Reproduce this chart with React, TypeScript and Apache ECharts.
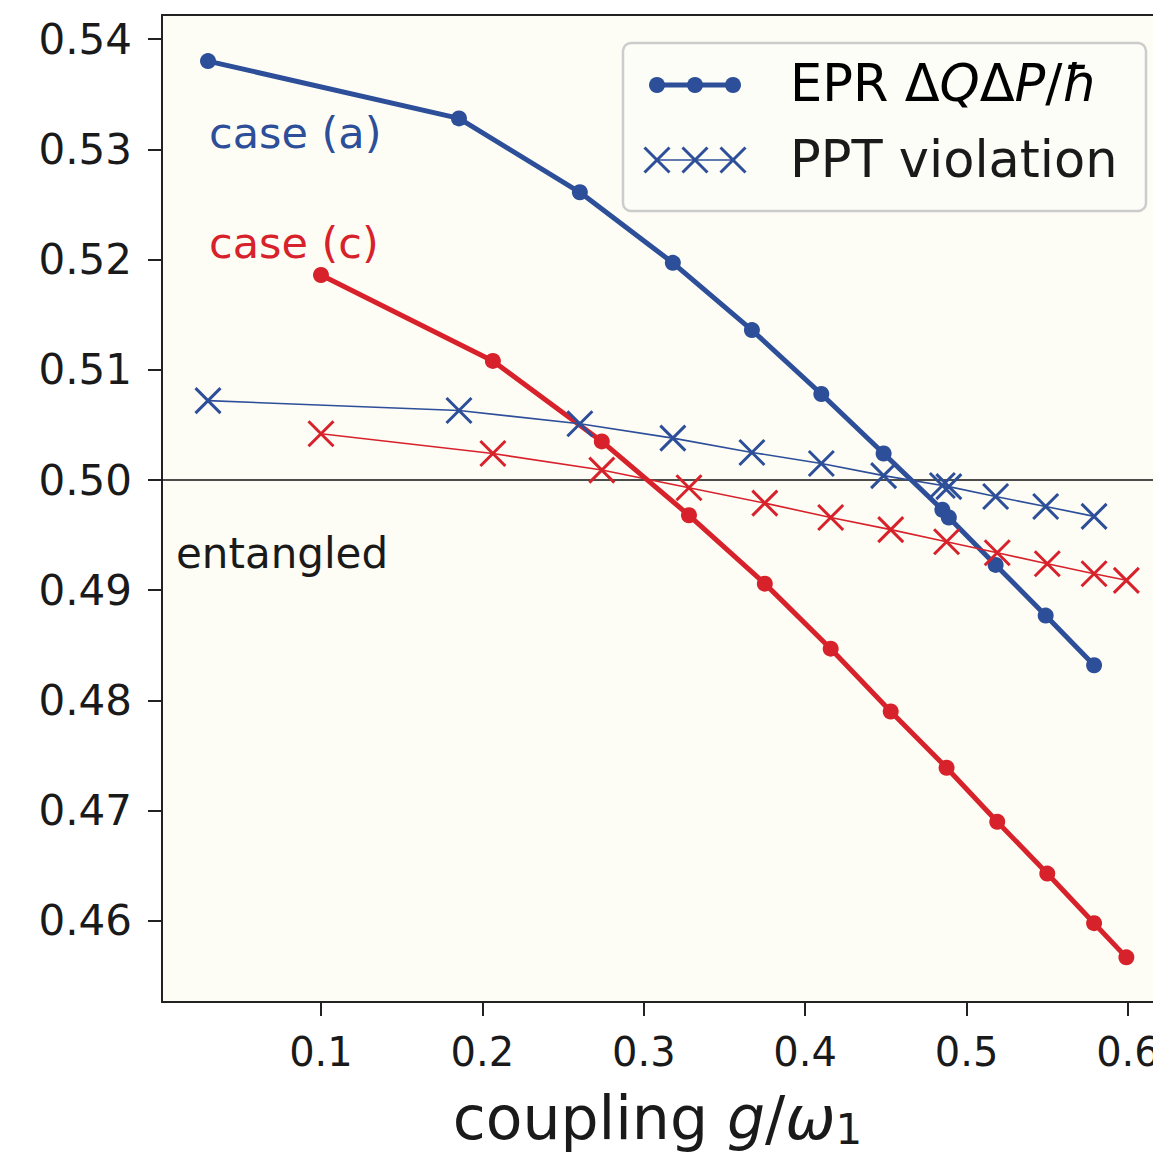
import React, { useEffect, useRef } from "react";
import * as echarts from "echarts";

const xA = [0.030, 0.1855, 0.2604, 0.318, 0.367, 0.410, 0.4486, 0.485, 0.489, 0.518, 0.549, 0.579];
const eprA = [0.5380, 0.5328, 0.5261, 0.5197, 0.5136, 0.5078, 0.5024, 0.4973, 0.4966, 0.4923, 0.4877, 0.4832];
const pptA = [0.5072, 0.5063, 0.5051, 0.5038, 0.5025, 0.5015, 0.5004, 0.4995, 0.4994, 0.4985, 0.4976, 0.4967];

const xC = [0.100, 0.2065, 0.274, 0.328, 0.375, 0.4158, 0.453, 0.4876, 0.519, 0.550, 0.579, 0.599];
const eprC = [0.5186, 0.5108, 0.5035, 0.4968, 0.4906, 0.4847, 0.4790, 0.4739, 0.4690, 0.4643, 0.4598, 0.4567];
const pptC = [0.5042, 0.5024, 0.5009, 0.4993, 0.4979, 0.4966, 0.4955, 0.4944, 0.4934, 0.4924, 0.4915, 0.4909];

const xTicks = [0.1, 0.2, 0.3, 0.4, 0.5, 0.6];
const yTicks = [0.46, 0.47, 0.48, 0.49, 0.5, 0.51, 0.52, 0.53, 0.54];
const threshold = 0.5;

const BLUE = "#2d4e98";
const RED = "#d7222b";
const FONT = "DejaVu Sans";
const CROSS = "path://M0,0L10,10M10,0L0,10";
const X_MIN = 0.0015;
const X_MAX = 0.6155;

function zip(xs: number[], ys: number[]) {
  return xs.map((x, i) => [x, ys[i]]);
}

export default function App() {
  const ref = useRef<HTMLDivElement>(null);
  useEffect(() => {
    if (!ref.current) return;
    const chart = echarts.init(ref.current, null, { renderer: "svg" });
    const epr = (name: string, color: string, data: number[][]) => ({
      type: "line",
      name,
      data,
      symbol: "circle",
      symbolSize: 16,
      lineStyle: { color, width: 5 },
      itemStyle: { color },
      z: 3,
    });
    const ppt = (name: string, color: string, data: number[][]) => ({
      type: "line",
      name,
      data,
      symbol: CROSS,
      symbolSize: 25,
      lineStyle: { color, width: 1.6 },
      itemStyle: { color, borderColor: color, borderWidth: 3 },
      z: 4,
    });
    const legendRich = {
      n: { fontFamily: FONT, fontSize: 51, color: "#1a1a1a" },
      i: { fontFamily: FONT, fontSize: 51, fontStyle: "italic", color: "#1a1a1a" },
    };
    const spine = { show: true, lineStyle: { color: "#222", width: 2 } };
    chart.setOption({
      animation: false,
      backgroundColor: "#ffffff",
      grid: {
        left: 162,
        top: 15,
        bottom: 152,
        right: 0,
        outerBoundsMode: "none",
        containLabel: false,
        show: true,
        backgroundColor: "#fdfdf6",
        borderWidth: 0,
      },
      xAxis: [
        {
          type: "value",
          min: X_MIN,
          max: X_MAX,
          axisLine: spine,
          axisTick: { show: true, length: 14, lineStyle: { color: "#222", width: 2 }, customValues: xTicks },
          axisLabel: {
            customValues: xTicks,
            formatter: (v: number) => v.toFixed(1),
            fontFamily: FONT,
            fontSize: 40,
            color: "#1a1a1a",
            margin: 30,
          },
          splitLine: { show: false },
          name: "{n|coupling }{i|g}{n|/}{i|ω}{s|1}",
          nameLocation: "middle",
          nameGap: 84,
          nameTextStyle: {
            rich: {
              n: { fontFamily: FONT, fontSize: 60, color: "#1a1a1a" },
              i: { fontFamily: FONT, fontSize: 60, fontStyle: "italic", color: "#1a1a1a" },
              s: { fontFamily: FONT, fontSize: 42, color: "#1a1a1a", verticalAlign: "bottom", padding: [22, 0, 0, 0] },
            },
          },
        },
        {
          type: "value",
          position: "top",
          min: X_MIN,
          max: X_MAX,
          axisLine: spine,
          axisTick: { show: false },
          axisLabel: { show: false },
          splitLine: { show: false },
        },
      ],
      yAxis: {
        type: "value",
        min: 0.45265,
        max: 0.54218,
        axisLine: spine,
        axisTick: { show: true, length: 14, lineStyle: { color: "#222", width: 2 }, customValues: yTicks },
        axisLabel: {
          customValues: yTicks,
          formatter: (v: number) => v.toFixed(2),
          fontFamily: FONT,
          fontSize: 42,
          color: "#1a1a1a",
          margin: 30,
        },
        splitLine: { show: false },
      },
      series: [
        {
          ...epr("EPR (a)", BLUE, zip(xA, eprA)),
          markLine: {
            silent: true,
            symbol: "none",
            label: { show: false },
            lineStyle: { color: "#111", width: 1.6, type: "solid" },
            data: [{ yAxis: threshold }],
            z: 2,
          },
        },
        ppt("PPT (a)", BLUE, zip(xA, pptA)),
        epr("EPR (c)", RED, zip(xC, eprC)),
        ppt("PPT (c)", RED, zip(xC, pptC)),
      ],
      graphic: [
        { type: "text", x: 209, y: 133, style: { text: "case (a)", fontFamily: FONT, fontSize: 43, fill: BLUE, verticalAlign: "middle" } },
        { type: "text", x: 209, y: 243, style: { text: "case (c)", fontFamily: FONT, fontSize: 43, fill: RED, verticalAlign: "middle" } },
        { type: "text", x: 176, y: 553, style: { text: "entangled", fontFamily: FONT, fontSize: 42, fill: "#1a1a1a", verticalAlign: "middle" } },
        {
          type: "group",
          z: 100,
          children: [
            { type: "rect", shape: { x: 623, y: 43, width: 523, height: 168, r: 8 }, style: { fill: "#fdfdf8", stroke: "#cccccc", lineWidth: 2.5 } },
            { type: "line", shape: { x1: 657, y1: 85, x2: 733, y2: 85 }, style: { stroke: BLUE, lineWidth: 5 } },
            { type: "circle", shape: { cx: 657, cy: 85, r: 8 }, style: { fill: BLUE } },
            { type: "circle", shape: { cx: 695, cy: 85, r: 8 }, style: { fill: BLUE } },
            { type: "circle", shape: { cx: 733, cy: 85, r: 8 }, style: { fill: BLUE } },
            { type: "line", shape: { x1: 657, y1: 160, x2: 733, y2: 160 }, style: { stroke: BLUE, lineWidth: 1.6 } },
            ...[657, 695, 733].flatMap((cx) => [
              { type: "line", shape: { x1: cx - 12.5, y1: 147.5, x2: cx + 12.5, y2: 172.5 }, style: { stroke: BLUE, lineWidth: 3 } },
              { type: "line", shape: { x1: cx + 12.5, y1: 147.5, x2: cx - 12.5, y2: 172.5 }, style: { stroke: BLUE, lineWidth: 3 } },
            ]),
            {
              type: "text",
              x: 790,
              y: 83,
              style: { text: "{n|EPR Δ}{i|Q}{n|Δ}{i|P}{n|/}{i|ħ}", rich: legendRich, verticalAlign: "middle" },
            },
            {
              type: "text",
              x: 790,
              y: 159,
              style: { text: "PPT violation", fontFamily: FONT, fontSize: 51, fill: "#1a1a1a", verticalAlign: "middle" },
            },
          ],
        },
      ],
    });
    return () => chart.dispose();
  }, []);
  return <div ref={ref} style={{ position: "fixed", left: 0, top: 0, width: 1153, height: 1154 }} />;
}
